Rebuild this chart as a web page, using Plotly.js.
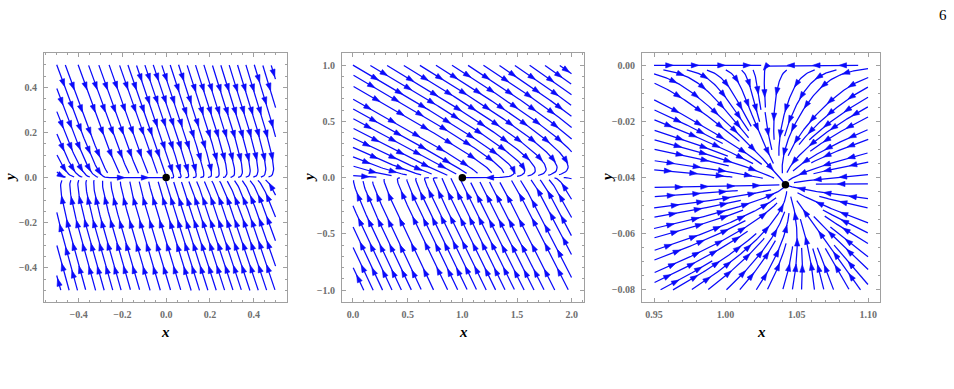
<!DOCTYPE html>
<html><head><meta charset="utf-8">
<script src="https://cdn.plot.ly/plotly-3.0.1.min.js"></script>
<style>html,body{margin:0;padding:0;background:#fff}#chart{width:954px;height:389px}</style>
</head><body><div id="chart"></div>
<script>
// ---------------- data ----------------
// Panel 1
const p1StreamX = [-0.5, 0.5];
const p1StreamY = [-0.5, 0.5];
const p1AxisX = [-0.558, 0.552];
const p1AxisY = [-0.551, 0.552];
const p1FixedPoint = [0, 0];
const p1FieldUpper = [1.0, 2.9, 0.08];  // [a, b, c]  dx = a*y - c*(x-x0), dy = -b*y  (y>0)
const p1FieldLower = [1.0, 3.2, 0.08];  // (y<0)
const p1XTicks = [-0.4, -0.2, 0, 0.2, 0.4];
const p1XTickText = ['\u22120.4', '\u22120.2', '0.0', '0.2', '0.4'];
const p1YTicks = [-0.4, -0.2, 0, 0.2, 0.4];
const p1YTickText = ['\u22120.4', '\u22120.2', '0.0', '0.2', '0.4'];

// Panel 2
const p2StreamX = [0, 2];
const p2StreamY = [-1, 1];
const p2AxisX = [-0.1, 2.112];
const p2AxisY = [-1.105, 1.108];
const p2FixedPoint = [1, 0];
const p2FieldUpper = [1.0, 0.62, 0.1];
const p2FieldLower = [1.0, 2.0, 0.03];
const p2XTicks = [0, 0.5, 1, 1.5, 2];
const p2XTickText = ['0.0', '0.5', '1.0', '1.5', '2.0'];
const p2YTicks = [-1, -0.5, 0, 0.5, 1];
const p2YTickText = ['\u22121.0', '\u22120.5', '0.0', '0.5', '1.0'];

// Panel 3
const p3StreamX = [0.95, 1.10];
const p3StreamY = [-0.08, 0.0];
const p3AxisX = [0.9416, 1.1082];
const p3AxisY = [-0.0843, 0.0044];
const p3FixedPoint = [1.042, -0.0425];
const p3SaddleX = [1.025];
const p3Rates = [1.4, 1.0];           // [kx, ky]
const p3Layer = [0.008];
const p3XTicks = [0.95, 1.0, 1.05, 1.1];
const p3XTickText = ['0.95', '1.00', '1.05', '1.10'];
const p3YTicks = [-0.08, -0.06, -0.04, -0.02, 0];
const p3YTickText = ['\u22120.08', '\u22120.06', '\u22120.04', '\u22120.02', '0.00'];

// ---------------- layout geometry ----------------
const W = 954, H = 389;
const frames = [[44, 287], [342, 584], [642, 880]];
const frameTop = 53, frameBottom = 302;
const BLUE = 'rgb(10,10,250)';

// ---------------- vector fields ----------------
function linearField(fixed, upper, lower) {
  return function (x, y) {
    const yy = y - fixed[1];
    const p = yy > 0 ? upper : lower;
    return [p[0] * yy - p[2] * (x - fixed[0]), -p[1] * yy];
  };
}
const F1 = linearField(p1FixedPoint, p1FieldUpper, p1FieldLower);
const F2 = linearField(p2FixedPoint, p2FieldUpper, p2FieldLower);
const F3 = function (x, y) {
  const cs = (p3FixedPoint[0] - p3SaddleX[0]) / p3FixedPoint[1];
  return [-p3Rates[0] * (x - p3SaddleX[0] - cs * y),
          -p3Rates[1] * (y - p3FixedPoint[1]) * Math.tanh(-y / p3Layer[0])];
};

// ---------------- evenly spaced streamlines ----------------
function buildStreams(F, fixed, xs, ys, sx, sy, dsep, arrowGap) {
  const h = 0.8, minLen = 6, maxSteps = 600;
  const dtest = 0.5 * dsep;
  const Wp = (xs[1] - xs[0]) * sx, Hp = (ys[1] - ys[0]) * sy;
  const fxp = (fixed[0] - xs[0]) * sx, fyp = (fixed[1] - ys[0]) * sy;
  function dir(X, Y) {
    const v = F(xs[0] + X / sx, ys[0] + Y / sy);
    const U = v[0] * sx, V = v[1] * sy, m = Math.hypot(U, V);
    if (!(m > 1e-12)) return null;
    return [U / m, V / m];
  }
  const cell = dsep;
  const gw = Math.ceil(Wp / cell) + 2, gh = Math.ceil(Hp / cell) + 2;
  const grid = []; for (let i = 0; i < gw * gh; i++) grid.push([]);
  const ci = X => Math.max(0, Math.min(gw - 1, Math.floor(X / cell)));
  const cj = Y => Math.max(0, Math.min(gh - 1, Math.floor(Y / cell)));
  function add(X, Y) { grid[cj(Y) * gw + ci(X)].push(X, Y); }
  function near(X, Y, d) {
    const i = ci(X), j = cj(Y), d2 = d * d;
    for (let dj = -1; dj <= 1; dj++) {
      const jj = j + dj; if (jj < 0 || jj >= gh) continue;
      for (let di = -1; di <= 1; di++) {
        const ii = i + di; if (ii < 0 || ii >= gw) continue;
        const a = grid[jj * gw + ii];
        for (let k = 0; k < a.length; k += 2) {
          const ex = a[k] - X, ey = a[k + 1] - Y;
          if (ex * ex + ey * ey < d2) return true;
        }
      }
    }
    return false;
  }
  const inside = (X, Y) => X >= 0 && X <= Wp && Y >= 0 && Y <= Hp;
  function trace(X0, Y0, sgn) {
    const pts = []; let X = X0, Y = Y0;
    for (let k = 0; k < maxSteps; k++) {
      const d1 = dir(X, Y); if (!d1) break;
      const d2 = dir(X + sgn * d1[0] * h / 2, Y + sgn * d1[1] * h / 2); if (!d2) break;
      if (d1[0] * d2[0] + d1[1] * d2[1] < 0.6) break;
      const nx = X + sgn * d2[0] * h, ny = Y + sgn * d2[1] * h;
      if (!inside(nx, ny)) break;
      if (Math.hypot(nx - fxp, ny - fyp) < 2.5) break;
      if (near(nx, ny, dtest)) break;
      pts.push([nx, ny]); X = nx; Y = ny;
    }
    return pts;
  }
  const lines = [], queue = [];
  function tryseed(X, Y) {
    if (!inside(X, Y) || near(X, Y, dsep * 0.95)) return;
    if (Math.hypot(X - fxp, Y - fyp) < 4) return;
    const L = trace(X, Y, -1).reverse().concat([[X, Y]], trace(X, Y, 1));
    if (L.length * h < minLen) return;
    lines.push(L);
    for (const p of L) add(p[0], p[1]);
    for (let k = 2; k < L.length - 2; k += 4) {
      const ax = L[k + 1][0] - L[k - 1][0], ay = L[k + 1][1] - L[k - 1][1];
      const m = Math.hypot(ax, ay) || 1, nx = -ay / m, ny = ax / m;
      queue.push([L[k][0] + nx * dsep, L[k][1] + ny * dsep], [L[k][0] - nx * dsep, L[k][1] - ny * dsep]);
    }
  }
  let qi = 0;
  const step = dsep / 2;
  for (let Y = Hp; Y >= 0; Y -= step) {
    for (let X = 0; X <= Wp; X += step) {
      tryseed(X, Y);
      while (qi < queue.length) { const s = queue[qi++]; tryseed(s[0], s[1]); }
    }
  }
  const lx = [], ly = [], ax = [], ay = [];
  const toX = X => xs[0] + X / sx, toY = Y => ys[0] + Y / sy;
  for (const L of lines) {
    for (let k = 0; k < L.length; k += 2) { lx.push(toX(L[k][0])); ly.push(toY(L[k][1])); }
    const last = L[L.length - 1]; lx.push(toX(last[0])); ly.push(toY(last[1]));
    lx.push(null); ly.push(null);
    const s = [0];
    for (let k = 1; k < L.length; k++) s.push(s[k - 1] + Math.hypot(L[k][0] - L[k - 1][0], L[k][1] - L[k - 1][1]));
    const len = s[s.length - 1];
    if (len < 9) continue;
    const pos = [];
    if (len < arrowGap) pos.push(len / 2);
    else { const off = (len % arrowGap) / 2 + arrowGap / 2; for (let p = off; p < len - 3; p += arrowGap) pos.push(p); }
    let k = 1;
    for (const p of pos) {
      while (k < L.length - 1 && s[k] < p) k++;
      const k0 = Math.max(0, k - 2), k1 = Math.min(L.length - 1, k + 2);
      let dx = L[k1][0] - L[k0][0], dy = L[k1][1] - L[k0][1];
      const m = Math.hypot(dx, dy) || 1; dx /= m; dy /= m;
      const nx = -dy, ny = dx, P = L[k];
      const tip = [P[0] + dx * 4, P[1] + dy * 4];
      const b = [P[0] - dx * 3.5, P[1] - dy * 3.5];
      const hw = 2.6;
      ax.push(toX(tip[0]), toX(b[0] + nx * hw), toX(b[0] - nx * hw), toX(tip[0]), null);
      ay.push(toY(tip[1]), toY(b[1] + ny * hw), toY(b[1] - ny * hw), toY(tip[1]), null);
    }
  }
  return { lx, ly, ax, ay };
}

const panels = [
  { F: F1, fixed: p1FixedPoint, sx: p1StreamX, sy: p1StreamY, axX: p1AxisX, axY: p1AxisY, dsep: 8, gap: 24,
    xt: p1XTicks, xtt: p1XTickText, yt: p1YTicks, ytt: p1YTickText, xminor: 0.05, yminor: 0.05 },
  { F: F2, fixed: p2FixedPoint, sx: p2StreamX, sy: p2StreamY, axX: p2AxisX, axY: p2AxisY, dsep: 8.5, gap: 28,
    xt: p2XTicks, xtt: p2XTickText, yt: p2YTicks, ytt: p2YTickText, xminor: 0.1, yminor: 0.1 },
  { F: F3, fixed: p3FixedPoint, sx: p3StreamX, sy: p3StreamY, axX: p3AxisX, axY: p3AxisY, dsep: 9, gap: 26,
    xt: p3XTicks, xtt: p3XTickText, yt: p3YTicks, ytt: p3YTickText, xminor: 0.01, yminor: 0.005 }
];

const traces = [];
const layout = {
  width: W, height: H, margin: { l: 0, r: 0, t: 0, b: 0 },
  paper_bgcolor: '#fff', plot_bgcolor: '#fff', showlegend: false,
  annotations: [], font: { family: 'Liberation Serif' }
};
const tickFont = { family: 'Liberation Serif', size: 10, color: '#6e6e6e', weight: 'bold' };
const labelFont = { family: 'Liberation Serif', size: 15, color: '#000', weight: 'bold', style: 'italic' };

panels.forEach((p, i) => {
  const n = i === 0 ? '' : String(i + 1);
  const fr = frames[i];
  const pxPerX = (fr[1] - fr[0]) / (p.axX[1] - p.axX[0]);
  const pxPerY = (frameBottom - frameTop) / (p.axY[1] - p.axY[0]);
  const st = buildStreams(p.F, p.fixed, p.sx, p.sy, pxPerX, pxPerY, p.dsep, p.gap);
  const xa = 'x' + n, ya = 'y' + n;
  traces.push({ type: 'scatter', mode: 'lines', x: st.lx, y: st.ly, xaxis: xa, yaxis: ya,
    line: { color: BLUE, width: 1.25 }, hoverinfo: 'skip', connectgaps: false });
  traces.push({ type: 'scatter', mode: 'lines', x: st.ax, y: st.ay, xaxis: xa, yaxis: ya,
    fill: 'toself', fillcolor: BLUE, line: { color: BLUE, width: 0.6 }, hoverinfo: 'skip' });
  traces.push({ type: 'scatter', mode: 'markers', x: [p.fixed[0]], y: [p.fixed[1]], xaxis: xa, yaxis: ya,
    marker: { color: '#000', size: 7.5 }, hoverinfo: 'skip' });
  const common = {
    showline: true, mirror: 'ticks', linecolor: '#a0a0a0', linewidth: 1,
    ticks: 'inside', ticklen: 4, tickwidth: 1, tickcolor: '#a0a0a0',
    showgrid: false, zeroline: false, tickfont: tickFont, fixedrange: true, tickmode: 'array'
  };
  layout['xaxis' + n] = Object.assign({}, common, {
    domain: [fr[0] / W, fr[1] / W], range: p.axX, anchor: ya,
    tickvals: p.xt, ticktext: p.xtt, ticklabelstandoff: 3,
    minor: { ticks: 'inside', ticklen: 2, tickcolor: '#a0a0a0', tickmode: 'linear', tick0: 0, dtick: p.xminor, showgrid: false }
  });
  layout['yaxis' + n] = Object.assign({}, common, {
    domain: [1 - frameBottom / H, 1 - frameTop / H], range: p.axY, anchor: xa,
    tickvals: p.yt, ticktext: p.ytt, ticklabelstandoff: 4,
    minor: { ticks: 'inside', ticklen: 2, tickcolor: '#a0a0a0', tickmode: 'linear', tick0: 0, dtick: p.yminor, showgrid: false }
  });
  const cx = (fr[0] + fr[1]) / 2;
  layout.annotations.push({ xref: 'paper', yref: 'paper', x: cx / W, y: 1 - 332 / H, text: 'x',
    showarrow: false, font: labelFont, xanchor: 'center', yanchor: 'middle' });
  layout.annotations.push({ xref: 'paper', yref: 'paper', x: [10, 309, 607][i] / W, y: 1 - 178 / H, text: 'y',
    showarrow: false, font: labelFont, xanchor: 'center', yanchor: 'middle', textangle: -90 });
});
layout.annotations.push({ xref: 'paper', yref: 'paper', x: 943 / W, y: 1 - 15 / H, text: '6',
  showarrow: false, font: { family: 'Liberation Serif', size: 15, color: '#000' }, xanchor: 'center', yanchor: 'middle' });

Plotly.newPlot('chart', traces, layout, { staticPlot: true, displayModeBar: false });
</script></body></html>
